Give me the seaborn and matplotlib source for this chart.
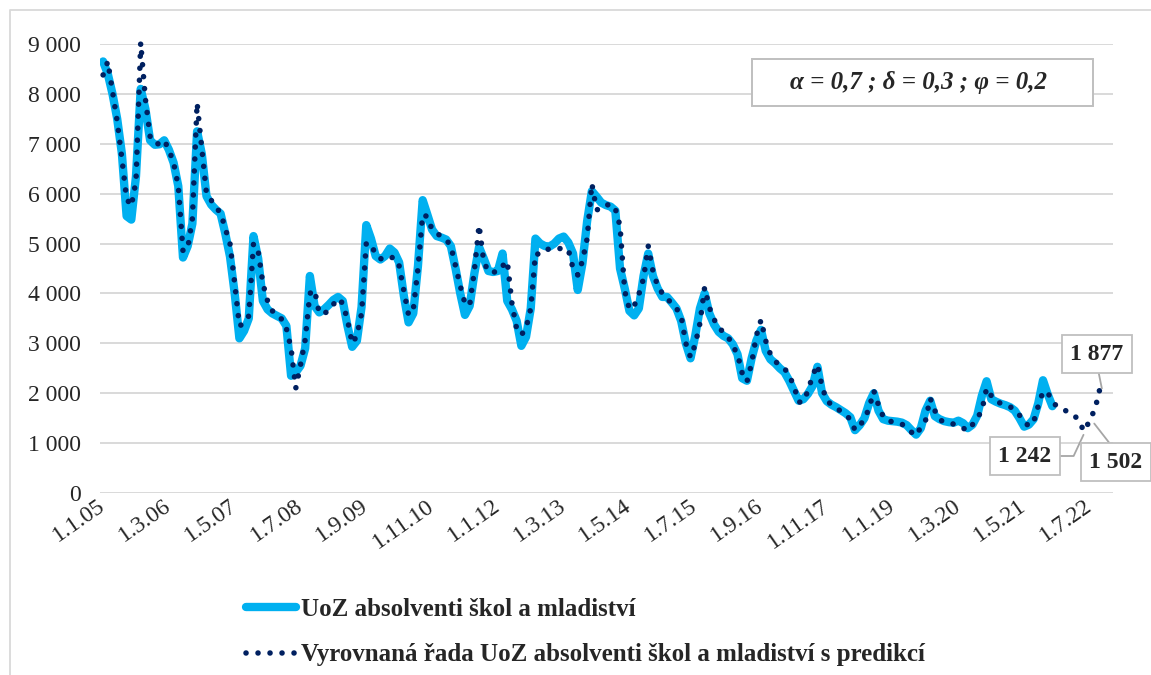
import numpy as np
import pandas as pd
import matplotlib
matplotlib.use("Agg")
import matplotlib.pyplot as plt
import seaborn as sns
from matplotlib.lines import Line2D
from matplotlib.patches import Rectangle
from matplotlib.ticker import FuncFormatter, FixedLocator

# UoZ absolventi škol a mladiství, měsíčně 1/2005 - 11/2021 (jeden řádek = jeden rok)
uoz_actual = [
    8650, 8400, 8000, 7500, 6800, 5550, 5480, 6350, 8100, 7700, 7070, 6980,
    6990, 7070, 6880, 6620, 6150, 4720, 4950, 5400, 7250, 6800, 5950, 5780,
    5680, 5600, 5200, 4740, 4000, 3100, 3250, 3500, 5150, 4700, 3850, 3680,
    3600, 3550, 3500, 3350, 2350, 2420, 2550, 2900, 4350, 3750, 3620, 3680,
    3770, 3870, 3930, 3850, 3350, 2930, 3050, 3730, 5370, 5100, 4750, 4680,
    4750, 4900, 4820, 4620, 3950, 3420, 3600, 4550, 5870, 5580, 5280, 5150,
    5120, 5080, 4950, 4500, 4000, 3570, 3750, 4400, 4930, 4700, 4450, 4430,
    4450, 4800, 3850, 3680, 3450, 2950, 3130, 3700, 5100, 5000, 4950, 4940,
    5000, 5100, 5140, 5020, 4800, 4070, 4600, 5450, 6050, 5940, 5820, 5770,
    5740, 5660, 4500, 4100, 3650, 3560, 3700, 4350, 4800, 4350, 4100, 3930,
    3930, 3820, 3700, 3450, 3000, 2700, 3150, 3700, 4000, 3600, 3380, 3230,
    3150, 3100, 2980, 2780, 2300, 2250, 2700, 3050, 3270, 2850, 2680, 2600,
    2500, 2420, 2250, 2050, 1850, 1880, 1990, 2150, 2530, 2000, 1840, 1770,
    1720, 1660, 1600, 1520, 1260, 1360, 1500, 1800, 2000, 1650, 1480, 1450,
    1440, 1430, 1410, 1360, 1260, 1170, 1300, 1650, 1850, 1540, 1480, 1440,
    1420, 1410, 1450, 1400, 1300, 1370, 1550, 1950, 2240, 1880, 1830, 1790,
    1760, 1720, 1650, 1500, 1330, 1370, 1480, 1800, 2260, 1980, 1740,
]

# vyrovnaná řada + predikce do 10/2022
uoz_fitted = [
    8380, 8650, 8050, 7450, 6700, 5900, 5750, 6250, 9030, 7900, 7150, 7000,
    7000, 7070, 6880, 6620, 6150, 4850, 4900, 5500, 7820, 6900, 6000, 5870,
    5720, 5620, 5300, 5000, 4200, 3350, 3400, 3550, 5000, 4850, 4200, 3850,
    3650, 3600, 3480, 3300, 2900, 2100, 2560, 3070, 4000, 4070, 3600, 3600,
    3650, 3780, 3900, 3800, 3470, 3000, 3150, 3600, 5000, 5000, 4770, 4700,
    4670, 4720, 4720, 4550, 4050, 3570, 3670, 4500, 5580, 5540, 5280, 5200,
    5150, 5080, 4950, 4550, 4150, 3800, 3760, 4450, 5370, 4640, 4430, 4430,
    4430, 4550, 4650, 3800, 3290, 3170, 3300, 3700, 4800, 4780, 4850, 4900,
    4900, 4900, 4900, 4880, 4500, 4370, 4650, 5100, 6200, 5680, 5680, 5760,
    5800, 5700, 5350, 4050, 3680, 3750, 3980, 4300, 4950, 4450, 4150, 4000,
    3880, 3820, 3700, 3550, 3000, 2720, 2980, 3400, 4120, 3720, 3480, 3320,
    3220, 3130, 2950, 2780, 2400, 2230, 2600, 3150, 3470, 3050, 2780, 2640,
    2560, 2500, 2350, 2150, 1820, 1830, 2050, 2360, 2570, 2130, 1850, 1770,
    1700, 1640, 1560, 1480, 1260, 1350, 1480, 1700, 2050, 1760, 1530, 1440,
    1430, 1420, 1380, 1300, 1220, 1150, 1320, 1450, 1900, 1650, 1470, 1420,
    1410, 1380, 1330, 1300, 1250, 1370, 1500, 1650, 2100, 1950, 1830, 1800,
    1770, 1730, 1660, 1560, 1430, 1340, 1420, 1750, 2030, 2020, 1820, 1740,
    1700, 1640, 1590, 1520, 1350, 1242, 1502, 1650, 2050, 1877,
]

tick_pos = [0, 14, 28, 42, 56, 70, 84, 98, 112, 126, 140, 154, 168, 182, 196, 210]
tick_labels = ["1.1.05", "1.3.06", "1.5.07", "1.7.08", "1.9.09", "1.11.10", "1.1.12", "1.3.13",
               "1.5.14", "1.7.15", "1.9.16", "1.11.17", "1.1.19", "1.3.20", "1.5.21", "1.7.22"]

# popisky predikce (index měsíce)
label_idx = [209, 210, 213]
label_text = ["1 242", "1 502", "1 877"]

name_actual = "UoZ absolventi škol a mladiství"
name_fitted = "Vyrovnaná řada UoZ absolventi škol a mladiství s predikcí"
params_text = "α = 0,7 ; δ = 0,3 ; φ = 0,2"

blue = "#00B0F0"
navy = "#002060"
grid_c = "#D9D9D9"
box_c = "#BFBFBF"

sns.set_style("white")
plt.rcParams["font.family"] = ["Liberation Serif", "DejaVu Serif"]

W, H = 1151, 675
fig = plt.figure(figsize=(W / 100, H / 100), dpi=100)
ax = fig.add_axes([100 / W, 1 - 493 / H, (1113 - 100) / W, (493 - 44) / H])

df_act = pd.DataFrame({"mesic": np.arange(len(uoz_actual)), "pocet": uoz_actual})
df_fit = pd.DataFrame({"mesic": np.arange(len(uoz_fitted)), "pocet": uoz_fitted})

sns.lineplot(data=df_act, x="mesic", y="pocet", ax=ax, color=blue, lw=6,
             solid_capstyle="round", solid_joinstyle="round", legend=False, zorder=3)
dot_style = (0, (0.01, 2.15))
sns.lineplot(data=df_fit, x="mesic", y="pocet", ax=ax, color=navy, lw=4.0,
             linestyle=dot_style, dash_capstyle="round", legend=False, zorder=4, clip_on=False)

ax.set_xlim(-0.66, 214.9)
ax.set_ylim(0, 9000)
ax.set_yticks(range(0, 9001, 1000))
ax.yaxis.set_major_formatter(FuncFormatter(lambda v, p: f"{int(v):,}".replace(",", "\u00a0")))
ax.xaxis.set_major_locator(FixedLocator(tick_pos))
ax.set_xticklabels(tick_labels, rotation=35, ha="right", va="center", rotation_mode="anchor")
ax.tick_params(axis="y", length=0, pad=14, labelsize=17)
ax.tick_params(axis="x", length=0, pad=8, labelsize=17)
ax.set_xlabel("")
ax.set_ylabel("")
ax.yaxis.grid(True, color=grid_c, lw=1.4)
ax.xaxis.grid(False)
ax.set_axisbelow(True)
for s in ax.spines.values():
    s.set_visible(False)

# rámeček grafu (vpravo a dole oříznutý)
fig.add_artist(Line2D([10 / W, 10 / W, 1], [0, 1 - 10 / H, 1 - 10 / H],
                      transform=fig.transFigure, color=grid_c, lw=1.3))

# parametry modelu
fig.add_artist(Rectangle((752 / W, 1 - 106 / H), 341 / W, 47 / H, transform=fig.transFigure,
                         fc="white", ec=box_c, lw=1.4, zorder=5))
fig.text(918 / W, 1 - 83 / H, params_text, ha="center", va="center", fontsize=18,
         fontweight="bold", fontstyle="italic", zorder=6)

# popisky hodnot predikce
bbox = dict(boxstyle="square,pad=0.35", fc="white", ec=box_c, lw=1.3)
text_px = [(1025, H - 456), (1116, H - 462), (1097, H - 354)]
arrows = [
    dict(arrowstyle="-", color="#A6A6A6", lw=1.3, shrinkA=0, shrinkB=3, relpos=(1, 0.5),
         connectionstyle="angle,angleA=0,angleB=65,rad=0"),
    dict(arrowstyle="-", color="#A6A6A6", lw=1.3, shrinkA=0, shrinkB=5, relpos=(0.5, 1)),
    dict(arrowstyle="-", color="#A6A6A6", lw=1.3, shrinkA=0, shrinkB=8, relpos=(0.5, 0)),
]
for i, t, pos, ap in zip(label_idx, label_text, text_px, arrows):
    ax.annotate(t, xy=(i, uoz_fitted[i]), xytext=pos, textcoords="figure pixels",
                ha="center", va="center", fontsize=17, fontweight="bold", bbox=bbox,
                arrowprops=ap, annotation_clip=False, zorder=7)

# legenda
h_act = Line2D([], [], color=blue, lw=6, solid_capstyle="round")
h_fit = Line2D([], [], color=navy, lw=4.0, linestyle=dot_style, dash_capstyle="round")
fig.legend([h_act, h_fit], [name_actual, name_fitted], loc="upper left",
           bbox_to_anchor=(236 / W, 1 - 588 / H), frameon=False,
           prop={"family": ["Liberation Serif", "DejaVu Serif"], "weight": "bold", "size": 18},
           handlelength=2.0, handletextpad=0.2, labelspacing=0.9, borderaxespad=0)

fig.savefig("out.png", dpi=100)
